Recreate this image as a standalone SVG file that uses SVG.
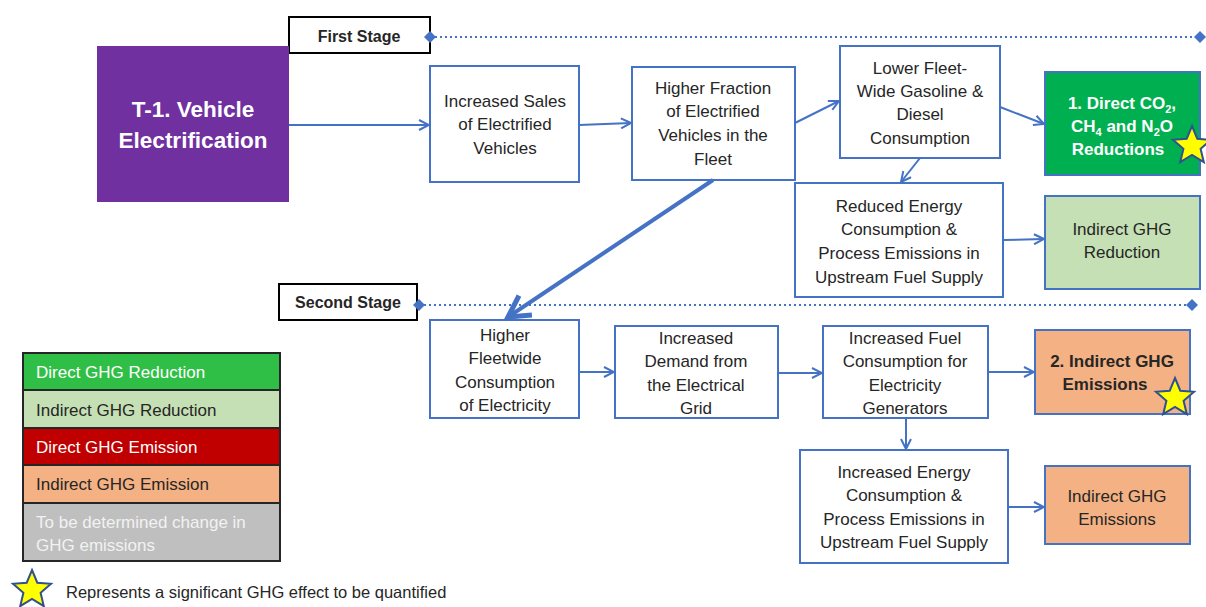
<svg xmlns="http://www.w3.org/2000/svg" width="1206" height="607" viewBox="0 0 1206 607">
<style>
text{font-family:"Liberation Sans","Open Sans",sans-serif;font-size:17px;fill:#262626;text-anchor:middle}
.box{fill:#fff;stroke:#4472C4;stroke-width:2}
.b{font-weight:bold}
.w{fill:#fff}
.lg text{text-anchor:start;font-size:17px}
.con line{stroke:#4472C4;stroke-width:2;marker-end:url(#ah)}
.dot{stroke:#4472C4;stroke-width:2;stroke-dasharray:2 3}
.star{fill:#FFFF00;stroke:#2F528F;stroke-width:2}
</style>
<defs>
<marker id="ah" viewBox="0 0 12 12" refX="11" refY="6" markerWidth="12" markerHeight="12" markerUnits="userSpaceOnUse" orient="auto"><path d="M1,1 L11,6 L1,11" fill="none" stroke="#4472C4" stroke-width="2"/></marker>
<marker id="ah2" viewBox="0 0 12 12" refX="10" refY="6" markerWidth="7" markerHeight="7" orient="auto"><path d="M1,1 L10,6 L1,11" fill="none" stroke="#4472C4" stroke-width="2.2"/></marker>
<polygon id="st" points="0,-20 5.3,-7.3 19,-6.2 8.6,2.8 11.8,16.2 0,9 -11.8,16.2 -8.6,2.8 -19,-6.2 -5.3,-7.3"/>
<path id="dia" d="M0,-6 L6,0 L0,6 L-6,0Z" fill="#4472C4"/>
</defs>
<g id="stage1">
<rect x="289" y="17" width="141" height="36" fill="#fff" stroke="#000" stroke-width="2"/>
<text x="359" y="42" class="b" style="font-size:16px">First Stage</text>
<line x1="430" y1="37" x2="1200" y2="37" class="dot"/>
<use href="#dia" x="430" y="37"/><use href="#dia" x="1200" y="37"/>
</g>
<g id="stage2">
<rect x="279" y="284" width="138" height="36" fill="#fff" stroke="#000" stroke-width="2"/>
<text x="348" y="308" class="b" style="font-size:16px">Second Stage</text>
<line x1="419" y1="305" x2="1192" y2="305" class="dot"/>
<use href="#dia" x="419" y="305"/><use href="#dia" x="1192" y="305"/>
</g>
<g id="t1">
<rect x="97" y="46" width="192" height="156" fill="#7030A0"/>
<text x="193" y="117" class="b w" style="font-size:22.5px">T-1. Vehicle</text>
<text x="193" y="148" class="b w" style="font-size:22.5px">Electrification</text>
</g>
<g id="nA"><rect x="430" y="66" width="149" height="116" class="box"/>
<text x="505" y="107">Increased Sales</text><text x="505" y="130">of Electrified</text><text x="505" y="154">Vehicles</text></g>
<g id="nB"><rect x="632" y="67" width="163" height="113" class="box"/>
<text x="713" y="94">Higher Fraction</text><text x="713" y="117">of Electrified</text><text x="713" y="141">Vehicles in the</text><text x="713" y="165">Fleet</text></g>
<g id="nC"><rect x="840" y="46" width="160" height="112" class="box"/>
<text x="920" y="74">Lower Fleet-</text><text x="920" y="97">Wide Gasoline &amp;</text><text x="920" y="120">Diesel</text><text x="920" y="144">Consumption</text></g>
<g id="nD"><rect x="1045" y="72" width="155" height="103" fill="#00B050" stroke="#4472C4" stroke-width="2"/>
<text x="1122" y="109" class="b w">1. Direct  CO<tspan style="font-size:11px" dy="4">2</tspan><tspan dy="-4">,</tspan></text>
<text x="1122" y="132" class="b w">CH<tspan style="font-size:11px" dy="4">4</tspan><tspan dy="-4"> and N</tspan><tspan style="font-size:11px" dy="4">2</tspan><tspan dy="-4">O</tspan></text>
<text x="1118" y="155" class="b w">Reductions</text>
<use href="#st" x="1192" y="146" class="star"/></g>
<g id="nE"><rect x="795" y="183" width="208" height="114" class="box"/>
<text x="899" y="212">Reduced Energy</text><text x="899" y="235">Consumption &amp;</text><text x="899" y="259">Process Emissions in</text><text x="899" y="283">Upstream Fuel Supply</text></g>
<g id="nF"><rect x="1045" y="196" width="155" height="93" fill="#C5E0B4" stroke="#4472C4" stroke-width="2"/>
<text x="1122" y="235">Indirect GHG</text><text x="1122" y="258">Reduction</text></g>
<g id="nG"><rect x="430" y="320" width="149" height="98" class="box"/>
<text x="505" y="341">Higher</text><text x="505" y="364">Fleetwide</text><text x="505" y="388">Consumption</text><text x="505" y="411">of Electricity</text></g>
<g id="nH"><rect x="615" y="326" width="163" height="92" class="box"/>
<text x="696" y="344">Increased</text><text x="696" y="367">Demand from</text><text x="696" y="391">the Electrical</text><text x="696" y="414">Grid</text></g>
<g id="nI"><rect x="823" y="326" width="165" height="92" class="box"/>
<text x="905" y="344">Increased Fuel</text><text x="905" y="367">Consumption for</text><text x="905" y="391">Electricity</text><text x="905" y="414">Generators</text></g>
<g id="nJ"><rect x="1035" y="330" width="155" height="84" fill="#F4B183" stroke="#4472C4" stroke-width="2"/>
<text x="1112" y="367" class="b">2. Indirect GHG</text><text x="1105" y="390" class="b">Emissions</text>
<use href="#st" x="1175" y="398" class="star"/></g>
<g id="nK"><rect x="800" y="450" width="208" height="113" class="box"/>
<text x="904" y="478">Increased Energy</text><text x="904" y="501">Consumption &amp;</text><text x="904" y="525">Process Emissions in</text><text x="904" y="548">Upstream Fuel Supply</text></g>
<g id="nL"><rect x="1045" y="466" width="145" height="78" fill="#F4B183" stroke="#4472C4" stroke-width="2"/>
<text x="1117" y="502">Indirect GHG</text><text x="1117" y="525">Emissions</text></g>
<g id="connectors" class="con">
<line x1="289" y1="125" x2="429" y2="125"/>
<line x1="579" y1="125" x2="631" y2="123"/>
<line x1="795" y1="123" x2="839" y2="101"/>
<line x1="1000" y1="107" x2="1044" y2="124"/>
<line x1="920" y1="158" x2="901" y2="182"/>
<line x1="1003" y1="240" x2="1044" y2="239"/>
<line x1="713" y1="180" x2="508" y2="317" style="stroke-width:4;marker-end:url(#ah2)"/>
<line x1="579" y1="372" x2="614" y2="372"/>
<line x1="778" y1="373" x2="822" y2="373"/>
<line x1="988" y1="372" x2="1034" y2="372"/>
<line x1="906" y1="418" x2="906" y2="449"/>
<line x1="1008" y1="507" x2="1044" y2="507"/>
</g>
<g id="legend" class="lg">
<rect x="23" y="353" width="257" height="37" fill="#2FBF46" stroke="#262626" stroke-width="2"/>
<rect x="23" y="390" width="257" height="38" fill="#C5E0B4" stroke="#262626" stroke-width="2"/>
<rect x="23" y="428" width="257" height="37" fill="#C00000" stroke="#262626" stroke-width="2"/>
<rect x="23" y="465" width="257" height="38" fill="#F4B183" stroke="#262626" stroke-width="2"/>
<rect x="23" y="503" width="257" height="58" fill="#BFBFBF" stroke="#262626" stroke-width="2"/>
<text x="36" y="378" class="w">Direct GHG Reduction</text>
<text x="36" y="416">Indirect GHG Reduction</text>
<text x="36" y="453" class="w">Direct GHG Emission</text>
<text x="36" y="490">Indirect GHG Emission</text>
<text x="36" y="528" style="fill:#f2f2f2">To be determined change in</text>
<text x="36" y="551" style="fill:#f2f2f2">GHG emissions</text>
<use href="#st" x="32" y="590" class="star"/>
<text x="66" y="598" style="font-size:16.5px">Represents  a significant GHG effect to be quantified</text>
</g>
</svg>
